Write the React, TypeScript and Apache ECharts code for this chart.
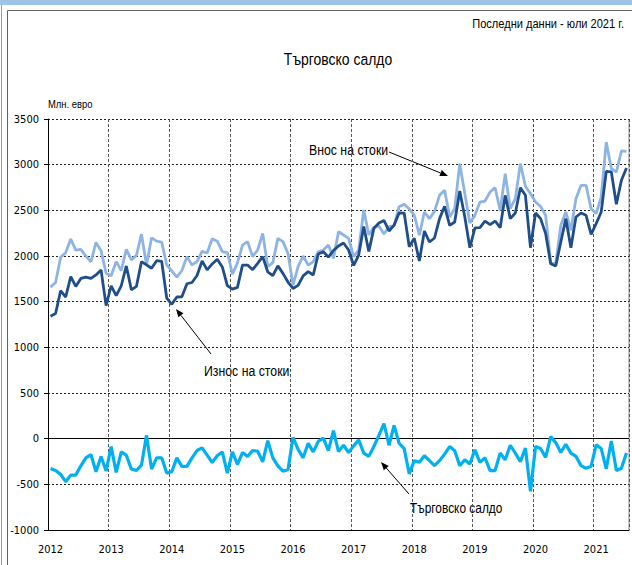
import React, { useEffect, useRef } from "react";
import * as echarts from "echarts";

const AXIS_FONT = "'DejaVu Sans Condensed', 'Liberation Sans Narrow', sans-serif";
const TEXT_FONT = "'Liberation Sans', Arial, sans-serif";
const NARROW = 0.82;

const startYear = 2012;
const lastYear = 2021;
const lastMonth = 7;

// Износ на стоки (млн. евро), Jan 2012 - Jul 2021
const exportsData = [
  1341, 1370, 1620, 1551, 1775, 1667, 1754, 1768, 1754, 1793, 1848, 1457,
  1674, 1565, 1674, 1891, 1630, 1667, 1938, 1902, 1866, 1949, 1942, 1540,
  1471, 1551, 1554, 1696, 1710, 1786, 1946, 1848, 1913, 1964, 1880, 1675,
  1638, 1656, 1900, 1901, 1850, 1920, 1993, 1825, 1785, 1893, 1810, 1715,
  1645, 1678, 1783, 1829, 1792, 2022, 2047, 1988, 2060, 2110, 2142, 2066,
  1896, 2010, 2323, 2050, 2302, 2362, 2389, 2274, 2338, 2472, 2470, 2102,
  2195, 1945, 2274, 2153, 2197, 2409, 2544, 2336, 2372, 2712, 2427, 2091,
  2307, 2310, 2383, 2343, 2383, 2310, 2664, 2409, 2471, 2748, 2664, 2091,
  2471, 2409, 2245, 1916, 1890, 2153, 2409, 2091, 2427, 2471, 2445, 2237,
  2354, 2482, 2927, 2920, 2566, 2829, 2964,
];

// Внос на стоки (млн. евро)
const importsData = [
  1659, 1710, 1986, 2036, 2185, 2065, 2072, 2000, 1935, 2149, 2058, 1812,
  1783, 1938, 1841, 2072, 1957, 2007, 2239, 1902, 2199, 2163, 2152, 1902,
  1837, 1768, 1841, 1993, 1902, 1938, 2050, 2033, 2189, 2162, 2047, 2038,
  1801, 1925, 2118, 2157, 1993, 2066, 2248, 1883, 1927, 2193, 2157, 2029,
  1682, 1883, 2000, 1901, 1938, 2047, 2066, 2120, 1974, 2266, 2230, 2193,
  1993, 2066, 2504, 2230, 2314, 2329, 2241, 2321, 2329, 2540, 2567, 2514,
  2447, 2228, 2482, 2409, 2489, 2664, 2719, 2427, 2518, 3011, 2683, 2361,
  2445, 2591, 2602, 2701, 2748, 2500, 2902, 2518, 2628, 3011, 2763, 2683,
  2591, 2544, 2445, 1934, 1916, 2336, 2482, 2281, 2628, 2774, 2774, 2518,
  2464, 2646, 3248, 2956, 2920, 3150, 3146,
];

// Търговско салдо (млн. евро)
const balanceData = [
  -326, -348, -391, -471, -399, -399, -297, -210, -174, -362, -196, -355,
  -87, -370, -145, -181, -333, -348, -290, 36, -333, -210, -210, -377,
  -362, -210, -304, -304, -210, -130, -101, -181, -261, -188, -145, -377,
  -145, -283, -152, -196, -130, -138, -254, -22, -210, -297, -355, -341,
  14, -116, -210, -51, -145, -29, 7, -130, 87, -141, -72, -151,
  -79, -14, -158, -194, -86, 36, 166, -72, 144, -50, -108, -385,
  -241, -259, -187, -241, -295, -241, -169, -86, -133, -295, -230, -277,
  -122, -259, -209, -349, -349, -158, -230, -72, -158, -252, -104, -576,
  -86, -108, -205, 22, -43, -151, -61, -158, -194, -295, -324, -302,
  -68, -108, -331, -25, -349, -324, -158,
];

const yMin = -1000;
const yMax = 3500;
const yStep = 500;

const texts = {
  note: "Последни данни - юли 2021 г.",
  title: "Търговско салдо",
  unit: "Млн. евро",
  imports: "Внос на стоки",
  exports: "Износ на стоки",
  balance: "Търговско салдо",
};

const categories: string[] = [];
for (let y = startYear; y <= lastYear; y++) {
  for (let m = 1; m <= 12; m++) {
    if (y === lastYear && m > lastMonth) break;
    categories.push(`${y}-${String(m).padStart(2, "0")}`);
  }
}

function arrow(x1: number, y1: number, x2: number, y2: number) {
  const dx = x2 - x1;
  const dy = y2 - y1;
  const len = Math.sqrt(dx * dx + dy * dy);
  const ux = dx / len;
  const uy = dy / len;
  const px = -uy;
  const py = ux;
  const hl = 8;
  const hw = 3.2;
  const bx = x2 - ux * hl;
  const by = y2 - uy * hl;
  return {
    type: "group",
    children: [
      {
        type: "line",
        shape: { x1, y1, x2: bx, y2: by },
        style: { stroke: "#000", lineWidth: 1 },
      },
      {
        type: "polygon",
        shape: {
          points: [
            [x2, y2],
            [bx + px * hw, by + py * hw],
            [bx - px * hw, by - py * hw],
          ],
        },
        style: { fill: "#000" },
      },
    ],
  };
}

function label(text: string, x: number, y: number, size: number, align: string) {
  return {
    type: "text",
    x,
    y,
    scaleX: NARROW,
    style: {
      text,
      fill: "#000",
      font: `${size}px ${TEXT_FONT}`,
      align,
      verticalAlign: "middle",
    },
  };
}

export default function App() {
  const ref = useRef<HTMLDivElement>(null);

  useEffect(() => {
    if (!ref.current) return;
    const chart = echarts.init(ref.current, null, { renderer: "svg" });
    const yearTick = (i: number) => i % 12 === 0;

    chart.setOption({
      animation: false,
      backgroundColor: "#ffffff",
      textStyle: { fontFamily: AXIS_FONT },
      grid: { left: 48, right: 3, top: 119, bottom: 35 },
      xAxis: {
        type: "category",
        data: categories,
        boundaryGap: true,
        axisLine: { show: true, onZero: false, lineStyle: { color: "#000", width: 1 } },
        axisTick: { show: false },
        axisLabel: {
          interval: yearTick,
          formatter: (v: string) => v.slice(0, 4),
          color: "#000",
          fontSize: 11,
          fontFamily: AXIS_FONT,
          margin: 14,
        },
        splitLine: {
          show: true,
          interval: (i: number) => i % 12 === 0 && i > 0,
          lineStyle: { color: "#555", type: [3, 2], width: 1 },
        },
      },
      yAxis: {
        type: "value",
        min: yMin,
        max: yMax,
        interval: yStep,
        axisLine: { show: true, lineStyle: { color: "#000", width: 1 } },
        axisTick: { show: true, length: 4, lineStyle: { color: "#000" } },
        axisLabel: {
          color: "#000",
          fontSize: 11,
          fontFamily: AXIS_FONT,
          margin: 9,
          formatter: (v: number) => String(v),
        },
        splitLine: { show: true, lineStyle: { color: "#222", type: [2, 2], width: 1 } },
      },
      series: [
        {
          name: texts.imports,
          type: "line",
          data: importsData,
          symbol: "none",
          lineStyle: { color: "#8db4e2", width: 2.8 },
          itemStyle: { color: "#8db4e2" },
          z: 3,
        },
        {
          name: texts.exports,
          type: "line",
          data: exportsData,
          symbol: "none",
          lineStyle: { color: "#1f4e88", width: 2.8 },
          itemStyle: { color: "#1f4e88" },
          z: 4,
        },
        {
          name: texts.balance,
          type: "line",
          data: balanceData,
          symbol: "none",
          lineStyle: { color: "#00b0f0", width: 3.2 },
          itemStyle: { color: "#00b0f0" },
          z: 5,
          markLine: {
            silent: true,
            symbol: "none",
            label: { show: false },
            lineStyle: { color: "#000", type: "solid", width: 1 },
            data: [{ yAxis: 0 }],
            z: 2,
          },
        },
      ],
      graphic: [
        { type: "rect", shape: { x: 0, y: 0, width: 632, height: 5 }, style: { fill: "#9dc3e6" } },
        { type: "line", shape: { x1: 1.5, y1: 5, x2: 1.5, y2: 565 }, style: { stroke: "#999", lineWidth: 1 } },
        { type: "line", shape: { x1: 7.5, y1: 10.5, x2: 7.5, y2: 565 }, style: { stroke: "#666", lineWidth: 1 } },
        { type: "line", shape: { x1: 7.5, y1: 10.5, x2: 632, y2: 10.5 }, style: { stroke: "#666", lineWidth: 1 } },
        { type: "line", shape: { x1: 629, y1: 119, x2: 629, y2: 530 }, style: { stroke: "#888", lineWidth: 1 } },
        label(texts.note, 624, 24, 13.5, "right"),
        label(texts.title, 338, 59, 17, "center"),
        label(texts.unit, 48, 104, 11.5, "left"),
        label(texts.imports, 309, 150, 15, "left"),
        label(texts.exports, 204, 371, 15, "left"),
        label(texts.balance, 410, 508, 14.5, "left"),
        arrow(389, 152, 448, 176),
        arrow(211, 354, 176, 309),
        arrow(409, 494, 381, 462),
      ],
    });

    return () => chart.dispose();
  }, []);

  return (
    <div
      ref={ref}
      style={{ position: "fixed", left: 0, top: 0, width: 632, height: 565, background: "#fff" }}
    />
  );
}
